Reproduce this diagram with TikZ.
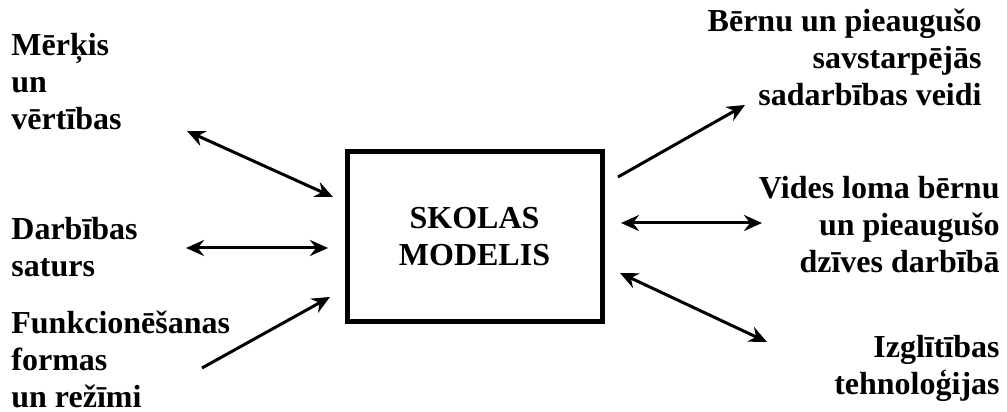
\documentclass[tikz,border=0pt]{standalone}
\usepackage{fontspec}
\setmainfont{Liberation Serif}
\usetikzlibrary{arrows.meta}

\begin{document}
\begin{tikzpicture}[x=0.5pt, y=0.5pt,
    labeltext/.style={font=\bfseries\fontsize{16}{18.5}\selectfont, inner sep=0pt},
    link/.style={line width=1.5pt, >={Stealth[length=9pt, width=8pt, inset=3pt]}}]
\useasboundingbox (0,0) rectangle (1007,412);

% School model box
\node[draw, line width=2.5pt, minimum width=127.5pt, minimum height=85pt,
      align=center, labeltext] (model) at (474.5,175) {SKOLAS\\MODELIS};

% Left labels (anchored at the last line)
\node[labeltext, align=left, anchor=base west] (merkis) at (11,282) {Mērķis\\un\\vērtības};
\node[labeltext, align=left, anchor=base west] (saturs) at (11,135) {Darbības\\saturs};
\node[labeltext, align=left, anchor=base west] (formas) at (11,4) {Funkcionēšanas\\formas\\un režīmi};

% Right labels
\node[labeltext, align=right, anchor=base east] (veidi) at (982,306) {Bērnu un pieaugušo\\savstarpējās\\sadarbības veidi};
\node[labeltext, align=right, anchor=base east] (vide) at (1000,139) {Vides loma bērnu\\un pieaugušo\\dzīves darbībā};
\node[labeltext, align=right, anchor=base east] (tehn) at (1000,17) {Izglītības\\tehnoloģijas};

% Arrow ends
\coordinate (merkis-a) at (187,281);  \coordinate (merkis-b) at (333,215);
\coordinate (saturs-a) at (186,164);  \coordinate (saturs-b) at (328,164);
\coordinate (formas-a) at (202,44);   \coordinate (formas-b) at (330,115);
\coordinate (veidi-a) at (618,235);   \coordinate (veidi-b) at (745,307);
\coordinate (vide-a) at (621,189);    \coordinate (vide-b) at (762,189);
\coordinate (tehn-a) at (620,139);    \coordinate (tehn-b) at (767,70);

% Links
\draw[link, <->] (merkis-a) -- (merkis-b);
\draw[link, <->] (saturs-a) -- (saturs-b);
\draw[link, ->] (formas-a) -- (formas-b);
\draw[link, ->] (veidi-a) -- (veidi-b);
\draw[link, <->] (vide-a) -- (vide-b);
\draw[link, <->] (tehn-a) -- (tehn-b);
\end{tikzpicture}
\end{document}
